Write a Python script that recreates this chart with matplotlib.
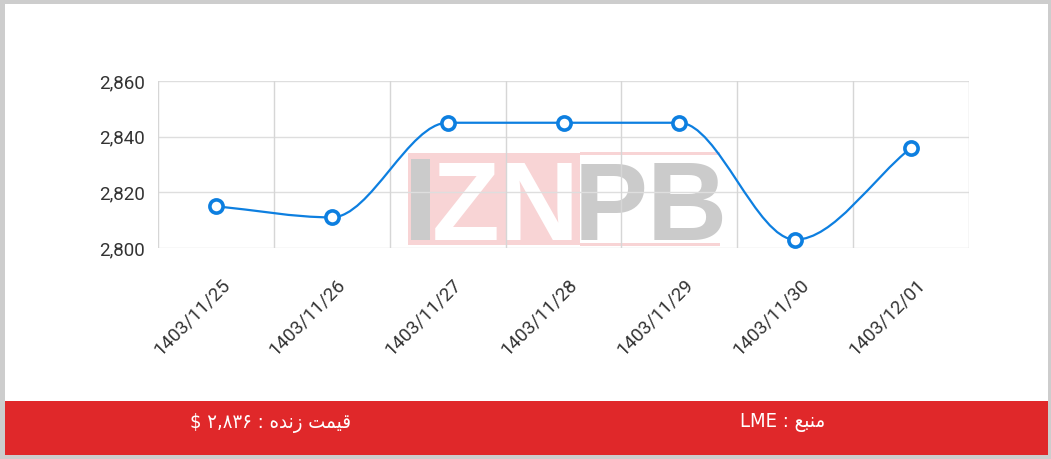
import numpy as np
import matplotlib
matplotlib.use('Agg')
import matplotlib.pyplot as plt
from matplotlib.path import Path
from matplotlib.patches import PathPatch, Rectangle
from matplotlib.transforms import ScaledTranslation, blended_transform_factory

# data
dates = ['1403/11/25', '1403/11/26', '1403/11/27', '1403/11/28',
         '1403/11/29', '1403/11/30', '1403/12/01']
prices = [2815, 2811, 2845, 2845, 2845, 2803, 2836]
yticks = [2800, 2820, 2840, 2860]
live_label = '$ \u06f2,\u06f8\u06f3\u06f6 : \ufee9\ufeaa\ufee7\ufeaf \ufe96\ufee4\ufef4\ufed7'   # قیمت زنده : ۲,۸۳۶ $
source_label = 'LME : \ufeca\ufe92\ufee8\ufee3'   # منبع : LME

W, H = 1051, 459
LINE = '#0d7fe0'
RED = '#e0282a'

def fx(x):
    return x / W

def fy(y):
    return 1 - y / H

fig = plt.figure(figsize=(W / 100, H / 100), dpi=100)
fig.patch.set_facecolor('#cdcdcd')

# white card + red footer
fig.patches.append(Rectangle((fx(5), fy(455)), fx(1048) - fx(5), fy(4) - fy(455),
                             transform=fig.transFigure, fc='white', ec='none', zorder=0))
fig.patches.append(Rectangle((fx(5), fy(455)), fx(1048) - fx(5), fy(401) - fy(455),
                             transform=fig.transFigure, fc=RED, ec='none', zorder=0.5))
fig.text(fx(270), fy(423), live_label, color='white', fontsize=14.5, ha='center', va='center',
         family='DejaVu Sans', fontstretch='condensed')
fig.text(fx(783), fy(423), source_label, color='white', fontsize=14.5, ha='center', va='center',
         family='DejaVu Sans', fontstretch='condensed')

# watermark
wm = dict(transform=fig.transFigure, ec='none', zorder=1)
fig.patches.append(Rectangle((fx(408), fy(245)), fx(580) - fx(408), fy(153) - fy(245), fc='#f8d4d5', **wm))
fig.patches.append(Rectangle((fx(580), fy(155)), fx(720) - fx(580), 3 / H, fc='#f8d4d5', **wm))
fig.patches.append(Rectangle((fx(580), fy(246)), fx(720) - fx(580), 3 / H, fc='#f8d4d5', **wm))
fig.patches.append(Rectangle((fx(411), fy(240)), fx(430) - fx(411), fy(159) - fy(240), fc='#cbcbcb', **wm))
fig.text(fx(506), fy(240), 'ZN', color='white', fontsize=80, fontweight='bold',
         family='Liberation Sans', ha='center', va='baseline', zorder=1)
fig.text(fx(651), fy(240), 'PB', color='#cbcbcb', fontsize=80, fontweight='bold',
         family='Liberation Sans', ha='center', va='baseline', zorder=1)

ax = fig.add_axes([fx(158), fy(248), fx(969) - fx(158), fy(81) - fy(248)])
ax.set_zorder(2)
ax.patch.set_alpha(0)
x = np.arange(len(prices))
ax.set_xlim(-0.5, len(prices) - 0.5)
ax.set_ylim(2800, 2860)
for s in ax.spines.values():
    s.set_visible(False)

for yv in yticks:
    ax.axhline(yv, color='#dedede', lw=1, zorder=0)
for xb in np.arange(-0.5, len(prices), 1.0):
    ax.axvline(xb, color='#d6d6d6', lw=1, zorder=0)

ax.set_yticks(yticks)
ax.set_yticklabels(['{:,}'.format(v) for v in yticks], fontsize=13.5, color='#333333', family='Roboto')
ax.tick_params(axis='y', length=0, pad=9.5)
ax.set_xticks([])

trans = blended_transform_factory(ax.transData, ax.transAxes)
off = ScaledTranslation(11 / 100, -34 / 100, fig.dpi_scale_trans)
for xi, d in zip(x, dates):
    ax.text(xi, 0, d, transform=trans + off, rotation=45, rotation_mode='anchor',
            ha='right', va='center', fontsize=13.5, color='#333333', family='Roboto')

# monotone cubic curve (chart.js style), drawn as bezier segments
yv = np.array(prices, dtype=float)
xv = x.astype(float)
dk = np.diff(yv) / np.diff(xv)
mk = np.zeros(len(yv))
mk[0] = dk[0]
mk[-1] = dk[-1]
for i in range(1, len(yv) - 1):
    if dk[i - 1] == 0 or dk[i] == 0 or np.sign(dk[i - 1]) != np.sign(dk[i]):
        mk[i] = 0
    else:
        mk[i] = (dk[i - 1] + dk[i]) / 2
for i in range(len(dk)):
    if dk[i] == 0:
        mk[i] = mk[i + 1] = 0
        continue
    a, b = mk[i] / dk[i], mk[i + 1] / dk[i]
    s = a * a + b * b
    if s > 9:
        t = 3 / np.sqrt(s)
        mk[i] = a * t * dk[i]
        mk[i + 1] = b * t * dk[i]
verts = [(xv[0], yv[0])]
codes = [Path.MOVETO]
for i in range(len(yv) - 1):
    dx = (xv[i + 1] - xv[i]) / 3
    verts += [(xv[i] + dx, yv[i] + mk[i] * dx),
              (xv[i + 1] - dx, yv[i + 1] - mk[i + 1] * dx),
              (xv[i + 1], yv[i + 1])]
    codes += [Path.CURVE4] * 3
ax.add_patch(PathPatch(Path(verts, codes), fc='none', ec=LINE, lw=1.6, zorder=3, clip_on=False))
ax.plot(x, prices, ls='none', marker='o', ms=9.5, mew=2.6, mfc='white', mec=LINE,
        zorder=4, clip_on=False)

fig.savefig('out.png', dpi=100)
